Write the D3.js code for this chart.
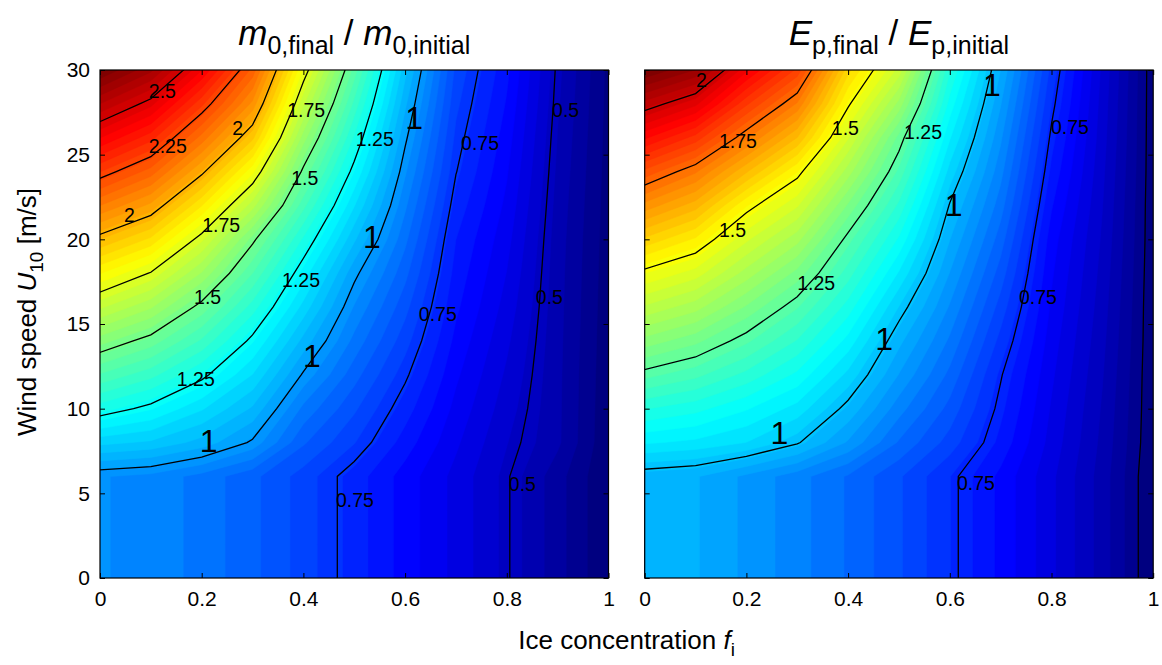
<!DOCTYPE html>
<html>
<head>
<meta charset="utf-8">
<script src="https://cdn.jsdelivr.net/npm/d3@7"></script>
<style>
  body { margin: 0; background: #fff; }
  svg { font-family: "Liberation Sans", Arial, sans-serif; }
</style>
</head>
<body>
<svg id="chart" width="1162" height="665"></svg>
<script>
// grid of the model runs
var iceConc = [0, 0.1, 0.2, 0.3, 0.4, 0.5, 0.6, 0.7, 0.8, 0.9, 1];
var windSpeed = [0, 2, 4, 6, 8, 10, 12, 14, 16, 18, 20, 22, 24, 26, 28, 30];

// m0,final / m0,initial : one column per ice concentration, from U10 = 0 up to 30
var massRatio = [
  [0.97, 0.97, 0.97, 0.97, 1.128, 1.283, 1.412, 1.545, 1.686, 1.831, 1.978, 2.129, 2.280, 2.429, 2.578, 2.728],
  [0.955, 0.955, 0.955, 0.955, 1.11, 1.233, 1.355, 1.476, 1.609, 1.746, 1.895, 2.043, 2.186, 2.331, 2.478, 2.625],
  [0.915, 0.915, 0.915, 0.915, 1.065, 1.159, 1.266, 1.372, 1.479, 1.60, 1.725, 1.868, 2.014, 2.151, 2.288, 2.43],
  [0.865, 0.865, 0.865, 0.865, 0.992, 1.073, 1.153, 1.234, 1.324, 1.417, 1.514, 1.657, 1.802, 1.951, 2.08, 2.19],
  [0.80, 0.80, 0.80, 0.80, 0.86, 0.919, 0.993, 1.066, 1.14, 1.213, 1.297, 1.392, 1.486, 1.585, 1.685, 1.785],
  [0.725, 0.725, 0.725, 0.725, 0.782, 0.824, 0.870, 0.917, 0.963, 1.014, 1.086, 1.157, 1.229, 1.298, 1.368, 1.437],
  [0.65, 0.65, 0.65, 0.65, 0.687, 0.723, 0.759, 0.795, 0.830, 0.866, 0.902, 0.937, 0.973, 1.01, 1.05, 1.091],
  [0.58, 0.58, 0.58, 0.58, 0.599, 0.618, 0.637, 0.656, 0.675, 0.690, 0.705, 0.728, 0.752, 0.77, 0.789, 0.807],
  [0.505, 0.505, 0.505, 0.505, 0.519, 0.534, 0.548, 0.562, 0.577, 0.591, 0.605, 0.620, 0.634, 0.648, 0.663, 0.677],
  [0.42, 0.42, 0.42, 0.42, 0.45, 0.451, 0.452, 0.454, 0.456, 0.458, 0.461, 0.466, 0.472, 0.478, 0.485, 0.491],
  [0.33, 0.33, 0.33, 0.33, 0.335, 0.337, 0.339, 0.341, 0.343, 0.345, 0.347, 0.349, 0.351, 0.353, 0.355, 0.357]
];

// Ep,final / Ep,initial
var energyRatio = [
  [0.98, 0.98, 0.98, 0.98, 1.075, 1.151, 1.237, 1.321, 1.405, 1.488, 1.586, 1.686, 1.792, 1.908, 2.023, 2.138],
  [0.97, 0.97, 0.97, 0.97, 1.065, 1.132, 1.209, 1.287, 1.368, 1.449, 1.535, 1.630, 1.726, 1.841, 1.963, 2.085],
  [0.935, 0.935, 0.935, 0.935, 1.045, 1.10, 1.167, 1.233, 1.302, 1.372, 1.441, 1.516, 1.621, 1.726, 1.831, 1.936],
  [0.90, 0.90, 0.90, 0.90, 1.004, 1.061, 1.117, 1.173, 1.23, 1.296, 1.367, 1.439, 1.515, 1.617, 1.718, 1.819],
  [0.86, 0.86, 0.86, 0.86, 0.9375, 0.9875, 1.0375, 1.0875, 1.1375, 1.1875, 1.2375, 1.301, 1.37, 1.438, 1.507, 1.575],
  [0.815, 0.815, 0.815, 0.815, 0.86, 0.90, 0.94, 0.975, 1.018, 1.068, 1.119, 1.169, 1.22, 1.27, 1.348, 1.425],
  [0.76, 0.76, 0.76, 0.76, 0.80, 0.828, 0.856, 0.884, 0.912, 0.94, 0.968, 0.997, 1.035, 1.074, 1.113, 1.152],
  [0.70, 0.70, 0.70, 0.70, 0.725, 0.74, 0.753, 0.776, 0.80, 0.825, 0.85, 0.875, 0.898, 0.92, 0.943, 0.967],
  [0.635, 0.635, 0.635, 0.635, 0.645, 0.652, 0.66, 0.668, 0.677, 0.685, 0.694, 0.710, 0.727, 0.743, 0.76, 0.776],
  [0.565, 0.565, 0.565, 0.565, 0.57, 0.574, 0.579, 0.584, 0.589, 0.594, 0.599, 0.604, 0.609, 0.614, 0.618, 0.623],
  [0.473, 0.473, 0.473, 0.473, 0.477, 0.478, 0.478, 0.479, 0.479, 0.48, 0.481, 0.481, 0.482, 0.482, 0.482, 0.482]
];

var massLevels = [0.5, 0.75, 1, 1.25, 1.5, 1.75, 2, 2.25, 2.5];
var energyLevels = [0.5, 0.75, 1, 1.25, 1.5, 1.75, 2];

// contour labels: text, ice concentration, wind speed where the label sits
var massLabels = [
  ["2.5", 0.098, 28.77], ["2.25", 0.098, 25.52], ["2", 0.262, 26.58], ["1.75", 0.37, 27.64],
  ["2", 0.049, 21.44], ["1.75", 0.203, 20.85], ["1.5", 0.378, 23.63], ["1.25", 0.505, 25.93],
  ["1", 0.61, 27.17], ["0.75", 0.712, 25.69], ["0.5", 0.891, 27.64], ["1.5", 0.187, 16.6],
  ["1.25", 0.36, 17.6], ["1", 0.527, 20.14], ["0.75", 0.629, 15.59], ["0.5", 0.859, 16.6],
  ["1.25", 0.153, 11.75], ["1", 0.409, 13.17], ["1", 0.206, 8.15], ["0.75", 0.466, 4.6],
  ["0.5", 0.806, 5.55]
];
var energyLabels = [
  ["2", 0.103, 29.42], ["1.75", 0.148, 25.81], ["1.5", 0.37, 26.58], ["1.5", 0.148, 20.56],
  ["1.25", 0.512, 26.34], ["1", 0.675, 29.12], ["0.75", 0.801, 26.64], ["1", 0.60, 22.03],
  ["1.25", 0.302, 17.42], ["1", 0.463, 14.12], ["0.75", 0.738, 16.6], ["1", 0.257, 8.62],
  ["0.75", 0.616, 5.61]
];

var xTicks = [0, 0.2, 0.4, 0.6, 0.8, 1];
var yTicks = [0, 5, 10, 15, 20, 25, 30];

var svg = d3.select("#chart");
var plotTop = 70, plotBottom = 578, panelW = 508.5;
var nx = iceConc.length, ny = windSpeed.length;
var nBands = 64;

function jet(t) {
  var c = function (v) { return Math.max(0, Math.min(1, v)); };
  var r = c(1.5 - Math.abs(4 * t - 3)),
      g = c(1.5 - Math.abs(4 * t - 2)),
      b = c(1.5 - Math.abs(4 * t - 1));
  return d3.rgb(r * 255, g * 255, b * 255).toString();
}

function drawPanel(left, cols, levels, labels, id, withYLabels) {
  var x = d3.scaleLinear().domain([0, 1]).range([left, left + panelW]);
  var y = d3.scaleLinear().domain([0, 30]).range([plotBottom, plotTop]);

  // grid index -> pixel (d3.contours puts sample i at i + 0.5)
  var gx = d3.scaleLinear().domain([0.5, nx - 0.5]).range([x(iceConc[0]), x(iceConc[nx - 1])]);
  var gy = d3.scaleLinear().domain([0.5, ny - 0.5]).range([y(windSpeed[0]), y(windSpeed[ny - 1])]);
  var path = d3.geoPath(d3.geoTransform({
    point: function (px, py) { this.stream.point(gx(px), gy(py)); }
  }));

  var values = [];
  for (var j = 0; j < ny; j++)
    for (var i = 0; i < nx; i++) values.push(cols[i][j]);

  var zmin = d3.min(values), zmax = d3.max(values);
  var bands = d3.range(nBands).map(function (k) { return zmin + k * (zmax - zmin) / nBands; });

  svg.append("clipPath").attr("id", id)
    .append("rect").attr("x", x(0)).attr("y", y(30))
    .attr("width", x(1) - x(0)).attr("height", y(0) - y(30));

  var g = svg.append("g").attr("clip-path", "url(#" + id + ")");

  var contours = d3.contours().size([nx, ny]);

  g.selectAll("path.band")
    .data(contours.thresholds(bands)(values))
    .enter().append("path")
    .attr("class", "band")
    .attr("d", path)
    .attr("fill", function (d, k) { return jet(k / (nBands - 1)); })
    .attr("stroke", function (d, k) { return jet(k / (nBands - 1)); })
    .attr("stroke-width", 0.5);

  g.selectAll("path.iso")
    .data(contours.thresholds(levels)(values))
    .enter().append("path")
    .attr("class", "iso")
    .attr("d", path)
    .attr("fill", "none")
    .attr("stroke", "#000")
    .attr("stroke-width", 1.3);

  g.selectAll("text.clabel")
    .data(labels)
    .enter().append("text")
    .attr("class", "clabel")
    .attr("x", function (d) { return x(d[1]) - (d[0] === "1" ? 5 : 1); })
    .attr("y", function (d) { return y(d[2]); })
    .attr("dy", "0.36em")
    .attr("font-size", function (d) { return d[0] === "1" ? 32 : 19.5; })
    .text(function (d) { return d[0]; });

  // axes, ticks pointing inwards
  svg.append("g").attr("transform", "translate(0," + plotBottom + ")")
    .call(d3.axisBottom(x).tickValues(xTicks).tickSize(-5).tickPadding(13)
      .tickFormat(function (d) { return d3.format("")(d); }))
    .call(function (a) { a.select(".domain").remove(); a.selectAll("text").attr("font-size", 21).attr("fill", "#000"); a.selectAll("line").attr("stroke", "#000"); });
  svg.append("g").attr("transform", "translate(0," + plotTop + ")")
    .call(d3.axisTop(x).tickValues(xTicks).tickSize(-5).tickFormat(""))
    .call(function (a) { a.select(".domain").remove(); a.selectAll("line").attr("stroke", "#000"); });
  svg.append("g").attr("transform", "translate(" + x(0) + ",0)")
    .call(d3.axisLeft(y).tickValues(yTicks).tickSize(-5).tickPadding(10)
      .tickFormat(withYLabels ? d3.format("") : ""))
    .call(function (a) { a.select(".domain").remove(); a.selectAll("text").attr("font-size", 21).attr("fill", "#000"); a.selectAll("line").attr("stroke", "#000"); });
  svg.append("g").attr("transform", "translate(" + x(1) + ",0)")
    .call(d3.axisRight(y).tickValues(yTicks).tickSize(-5).tickFormat(""))
    .call(function (a) { a.select(".domain").remove(); a.selectAll("line").attr("stroke", "#000"); });

  svg.append("rect")
    .attr("x", x(0)).attr("y", y(30))
    .attr("width", x(1) - x(0)).attr("height", y(0) - y(30))
    .attr("fill", "none").attr("stroke", "#000").attr("stroke-width", 1.2);

  return x;
}

var xl = drawPanel(100, massRatio, massLevels, massLabels, "clipMass", true);
var xr = drawPanel(644.7, energyRatio, energyLevels, energyLabels, "clipEnergy", false);

function title(cx, sym, sub) {
  var t = svg.append("text").attr("x", cx).attr("y", 45).attr("text-anchor", "middle").attr("font-size", 35);
  t.append("tspan").attr("font-style", "italic").text(sym);
  t.append("tspan").attr("font-size", 25).attr("dy", 9).text(sub + ",final");
  t.append("tspan").attr("dy", -9).text(" / ");
  t.append("tspan").attr("font-style", "italic").text(sym);
  t.append("tspan").attr("font-size", 25).attr("dy", 9).text(sub + ",initial");
}
title((xl(0) + xl(1)) / 2, "m", "0");
title((xr(0) + xr(1)) / 2, "E", "p");

var yl = svg.append("text")
  .attr("transform", "translate(36,312) rotate(-90)")
  .attr("text-anchor", "middle").attr("font-size", 26);
yl.append("tspan").text("Wind speed ");
yl.append("tspan").attr("font-style", "italic").text("U");
yl.append("tspan").attr("font-size", 19).attr("dy", 7).text("10");
yl.append("tspan").attr("dy", -7).text(" [m/s]");

var xlab = svg.append("text")
  .attr("x", (xl(0) + xr(1)) / 2).attr("y", 649)
  .attr("text-anchor", "middle").attr("font-size", 26);
xlab.append("tspan").text("Ice concentration ");
xlab.append("tspan").attr("font-style", "italic").text("f");
xlab.append("tspan").attr("font-size", 19).attr("dy", 7).text("i");
</script>
</body>
</html>
